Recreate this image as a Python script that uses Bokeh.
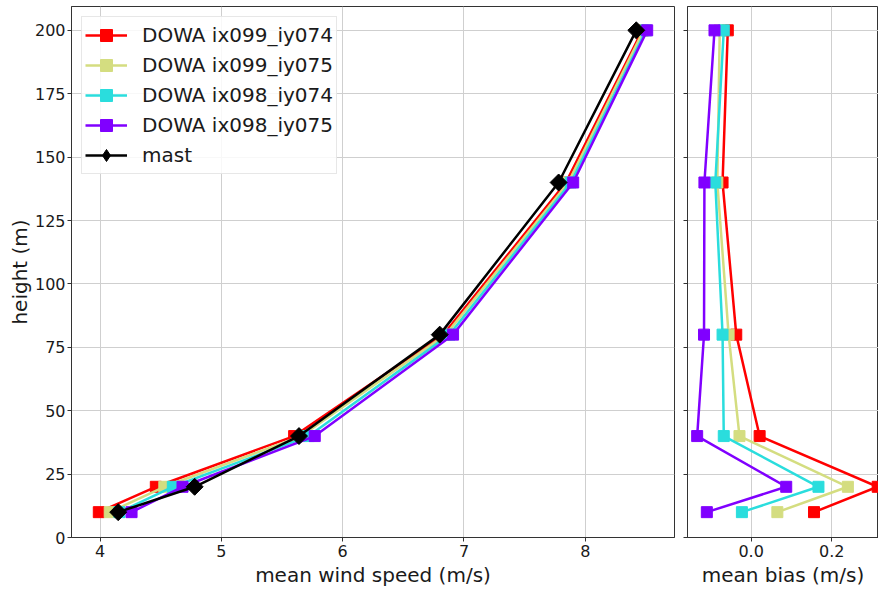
import numpy as np
from bokeh.plotting import figure
from bokeh.layouts import row
from bokeh.models import Range1d, FixedTicker, NumeralTickFormatter, Legend, LegendItem
from bokeh.embed import file_html
from bokeh.resources import INLINE

# ---- data ----
heights = [10, 20, 40, 80, 140, 200]
series_names = ["DOWA ix099_iy074", "DOWA ix099_iy075", "DOWA ix098_iy074", "DOWA ix098_iy075"]
mast_name = "mast"
colors = ["#ff0000", "#d4dd80", "#2adddd", "#8000ff"]
ws_099_074 = [3.99, 4.46, 5.60, 6.83, 7.84, 8.47]
ws_099_075 = [4.08, 4.53, 5.66, 6.85, 7.86, 8.48]
ws_098_074 = [4.16, 4.60, 5.72, 6.88, 7.88, 8.50]
ws_098_075 = [4.26, 4.68, 5.77, 6.91, 7.90, 8.51]
ws_mast = [4.15, 4.78, 5.64, 6.80, 7.78, 8.42]
bias_099_074 = [0.156, 0.314, 0.021, -0.037, -0.071, -0.058]
bias_099_075 = [0.065, 0.240, -0.029, -0.056, -0.084, -0.078]
bias_098_074 = [-0.023, 0.167, -0.068, -0.071, -0.089, -0.068]
bias_098_075 = [-0.110, 0.087, -0.134, -0.117, -0.116, -0.091]
y_ticks = [0, 25, 50, 75, 100, 125, 150, 175, 200]
ws_ticks = [4, 5, 6, 7, 8]
bias_ticks = [-0.2, 0.0, 0.2, 0.4]

ws_series = [ws_099_074, ws_099_075, ws_098_074, ws_098_075]
bias_series = [bias_099_074, bias_099_075, bias_098_074, bias_098_075]

FONT = "DejaVu Sans"
GRID = "#cfcfcf"
SPINE = "#333333"

y_range = Range1d(0, 209.4)


def style(p):
    p.background_fill_color = "white"
    p.border_fill_color = "white"
    p.outline_line_color = SPINE
    p.outline_line_width = 1
    for ax in (p.xaxis[0], p.yaxis[0]):
        ax.axis_line_color = SPINE
        ax.major_tick_line_color = SPINE
        ax.major_tick_out = 4
        ax.major_tick_in = 0
        ax.minor_tick_out = 0
        ax.minor_tick_in = 0
        ax.major_label_text_font = FONT
        ax.major_label_text_font_size = "16px"
        ax.major_label_text_color = "#1a1a1a"
        ax.axis_label_text_font = FONT
        ax.axis_label_text_font_size = "20px"
        ax.axis_label_text_font_style = "normal"
        ax.axis_label_text_color = "#1a1a1a"
        ax.major_label_standoff = 3
        ax.axis_label_standoff = 3
    p.xgrid.grid_line_color = GRID
    p.ygrid.grid_line_color = GRID
    p.xgrid.grid_line_width = 1
    p.ygrid.grid_line_width = 1


p1 = figure(width=680, height=589, output_backend="svg", toolbar_location=None,
            x_range=Range1d(3.765, 8.735), y_range=y_range,
            min_border_left=71, min_border_right=6, min_border_top=6, min_border_bottom=51)
style(p1)
p1.xaxis.ticker = FixedTicker(ticks=ws_ticks)
p1.yaxis.ticker = FixedTicker(ticks=y_ticks)
p1.yaxis.major_label_standoff = 2
p1.yaxis.axis_label_standoff = 0
p1.xaxis.axis_label = "mean wind speed (m/s)"
p1.yaxis.axis_label = "height (m)"

items = []
for name, col, vals in zip(series_names, colors, ws_series):
    rl = p1.line(vals, heights, line_color=col, line_width=2.5)
    rs = p1.scatter(vals, heights, marker="square", size=11, fill_color=col, line_color=col)
    items.append(LegendItem(label=name, renderers=[rl, rs]))
rl = p1.line(ws_mast, heights, line_color="black", line_width=2.5)
# diamond glyph (used by the legend); fully covered by the equal-sided diamond drawn next
rd = p1.scatter(ws_mast, heights, marker="diamond", size=15, fill_color="black", line_color="black")
p1.scatter(ws_mast, heights, marker="square", angle=np.pi / 4, size=12,
           fill_color="black", line_color="black")
items.append(LegendItem(label=mast_name, renderers=[rl, rd]))

lg = Legend(items=items, location="top_left")
lg.margin = 10
lg.padding = 3
lg.spacing = 0
lg.label_text_font = FONT
lg.label_text_font_size = "20px"
lg.label_text_color = "#1a1a1a"
lg.label_standoff = 15
lg.glyph_width = 42
lg.glyph_height = 30
lg.label_height = 30
lg.border_line_color = "#d0d0d0"
lg.border_line_width = 1
lg.background_fill_color = "white"
lg.background_fill_alpha = 0.85
p1.add_layout(lg, "center")

p2 = figure(width=198, height=589, output_backend="svg", toolbar_location=None,
            x_range=Range1d(-0.158, 0.316), y_range=y_range,
            min_border_left=7, min_border_right=0, min_border_top=6, min_border_bottom=51)
style(p2)
p2.xaxis.ticker = FixedTicker(ticks=bias_ticks)
p2.xaxis.formatter = NumeralTickFormatter(format="0.0")
p2.yaxis.ticker = FixedTicker(ticks=y_ticks)
p2.yaxis.major_label_text_font_size = "0px"
p2.yaxis.major_label_standoff = 0
p2.yaxis.axis_label_standoff = 0
p2.xaxis.axis_label = "mean bias (m/s)"

for col, vals in zip(colors, bias_series):
    p2.line(vals, heights, line_color=col, line_width=2.5)
    p2.scatter(vals, heights, marker="square", size=11, fill_color=col, line_color=col)

layout = row(p1, p2)
open("out.html", "w").write(file_html(layout, INLINE))
